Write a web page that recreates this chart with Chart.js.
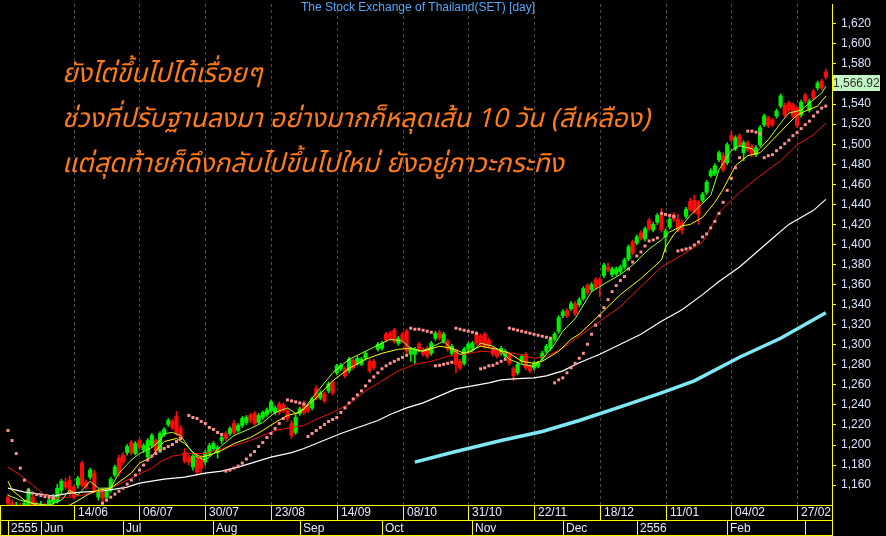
<!DOCTYPE html>
<html>
<head>
<meta charset="utf-8">
<script src="https://cdn.jsdelivr.net/npm/chart.js@4.4.0/dist/chart.umd.min.js"></script>
<style>
  html, body { margin: 0; padding: 0; background: #000; }
  #wrap { position: relative; width: 886px; height: 536px; overflow: hidden; }
  #c { background: #000; }
  .note {
    position: absolute; left: 62px; color: #ff7a18; white-space: nowrap;
    font: italic 26.5px/30px "Noto Sans Thai", "Noto Sans Thai UI", Loma, Garuda, "Tlwg Typo", Waree, sans-serif;
  }
</style>
</head>
<body>
<div id="wrap">
  <canvas id="c" width="886" height="536"></canvas>
  <div class="note" style="top:59px">ยังไต่ขึ้นไปได้เรื่อยๆ</div>
  <div class="note" style="top:104px">ช่วงที่ปรับฐานลงมา อย่างมากก็หลุดเส้น 10 วัน (สีเหลือง)</div>
  <div class="note" style="top:149px">แต่สุดท้ายก็ดึงกลับไปขึ้นไปใหม่ ยังอยู่ภาวะกระทิง</div>
</div>
<script>
// SET daily, late May 2012 .. early Mar 2013 (bar index 0..199)
const opens = [
  1148,1142,1135,1140,1134,1140,1148,1141,1136,1140,
  1137,1143,1144,1155,1163,1165,1158,1160,1182,1163,
  1168,1172,1148,1154,1148,1155,1170,1187,1190,1192.5,
  1202.5,1191.5,1204.5,1195.5,1188,1199.5,1204.5,1194.5,1210.5,1220.5,
  1223.5,1228.5,1216.5,1192.5,1188,1178,1188,1185,1183,1191.5,
  1196.5,1192.5,1204.5,1211.5,1211.5,1221.5,1214.5,1219.5,1222.5,1229.5,
  1231.5,1222.5,1227.5,1230.5,1234,1232.5,1241,1240,1234,1221.5,
  1212.5,1231.5,1241,1239,1237,1256,1247,1251,1254,1262,
  1272,1276,1276,1274,1284.5,1281.5,1280.5,1286.5,1283.5,1283.5,
  1295.5,1296.5,1310.5,1311.5,1314.5,1301.5,1310.5,1313.5,1290.5,1290.5,
  1300.5,1294.5,1296.5,1291.5,1306.5,1312.5,1303.5,1303.5,1291.5,1293.5,
  1283.5,1281.5,1295.5,1296.5,1310.5,1308.5,1310.5,1304.5,1296.5,1294.5,
  1291.5,1288.5,1290.5,1276,1272,1283.5,1290.5,1278.5,1277,1278.5,
  1286.5,1293.5,1296.5,1305.5,1313.5,1329,1334,1336,1341,1340,
  1346,1359,1355,1365,1365,1369,1377.5,1370,1371,1373,
  1377.5,1385.5,1402.5,1401.5,1411.5,1405.5,1424,1414.5,1422,1429,
  1407.5,1417.5,1430,1425,1422,1428,1443,1444,1442,1444,
  1452,1468.5,1470.5,1484.5,1488.5,1481.5,1508.5,1495.5,1508.5,1491.5,
  1501.5,1497.5,1489.5,1499.5,1519.5,1526,1524,1528,1538,1539,
  1541,1539,1536,1529,1549,1534,1553,1556,1563,1572
];
const closes = [
  1142,1135,1140,1133,1142,1155,1140,1135,1141,1136,
  1145,1149,1157,1164,1158,1152,1148,1167,1160,1158,
  1175,1155,1153,1147,1155,1166,1178,1172,1183,1198.5,
  1192.5,1201.5,1197.5,1199.5,1204.5,1209.5,1194.5,1211.5,1215.5,1224.5,
  1217.5,1211.5,1207.5,1184,1183,1189,1173,1177,1192.5,1199.5,
  1201.5,1197.5,1207.5,1206.5,1216.5,1212.5,1219.5,1226.5,1227.5,1224.5,
  1221.5,1229.5,1232.5,1235,1243,1237,1232.5,1234,1226.5,1209.5,
  1227.5,1236,1232.5,1234,1246,1247,1252,1244,1261,1252,
  1279,1279.5,1269,1285.5,1277,1286.5,1285.5,1291.5,1274,1277,
  1300.5,1301.5,1304.5,1306.5,1303.5,1306.5,1304.5,1293.5,1295.5,1295.5,
  1295.5,1290.5,1288.5,1301.5,1311.5,1306.5,1310.5,1295.5,1298.5,1280.5,
  1277,1295.5,1300.5,1301.5,1301.5,1300.5,1298.5,1298.5,1290.5,1288.5,
  1296.5,1293.5,1281.5,1269,1280.5,1288.5,1277,1274,1281.5,1281.5,
  1291.5,1298.5,1305.5,1310.5,1327,1333,1329,1341,1331,1345,
  1356,1352,1360,1357,1360,1379.5,1374.5,1375.5,1375.5,1377.5,
  1384.5,1397.5,1391.5,1407.5,1406.5,1415.5,1415.5,1420,1429,1414.5,
  1413.5,1425,1425,1414.5,1414.5,1435,1435,1433,1430,1450,
  1462,1473.5,1478.5,1491.5,1474.5,1499.5,1504.5,1506.5,1499.5,1501.5,
  1494.5,1489.5,1496.5,1516.5,1528,1518.5,1519.5,1533,1548,1529,
  1534,1528,1518.5,1542,1543,1543,1546,1561,1556,1566.92
];
const highs = [
  1151,1145,1143,1142,1145,1157,1150,1143,1144,1142,
  1148,1151,1161,1166,1167,1169,1160,1169,1184,1165,
  1177,1175,1156,1156,1157,1168,1180,1190,1192.5,1200.5,
  1204.5,1203.5,1206.5,1201.5,1206.5,1211.5,1206.5,1213.5,1217.5,1226.5,
  1225.5,1233.5,1219.5,1196.5,1190,1190.5,1190,1190,1194.5,1201.5,
  1203.5,1199.5,1209.5,1213.5,1218.5,1224.5,1221.5,1228.5,1229.5,1231.5,
  1233.5,1231.5,1234,1237,1245,1239,1243,1242,1237,1224.5,
  1230.5,1238,1244,1241,1248,1259,1254,1253,1263,1264,
  1280.5,1281.5,1278,1287.5,1286.5,1288.5,1287.5,1293.5,1285.5,1285.5,
  1302.5,1303.5,1312.5,1313.5,1316.5,1308.5,1312.5,1315.5,1297.5,1297.5,
  1302.5,1296.5,1298.5,1303.5,1313.5,1314.5,1312.5,1305.5,1300.5,1295.5,
  1285.5,1297.5,1302.5,1303.5,1312.5,1310.5,1312.5,1306.5,1298.5,1296.5,
  1298.5,1295.5,1292.5,1278,1282.5,1290.5,1292.5,1280.5,1283.5,1283.5,
  1293.5,1300.5,1307.5,1312.5,1329,1335,1336,1343,1343,1347,
  1358,1361,1362,1367,1367,1381.5,1381.5,1377.5,1377.5,1379.5,
  1386.5,1399.5,1404.5,1409.5,1413.5,1417.5,1426,1422,1431,1436,
  1415.5,1427,1432,1430,1424,1437,1446,1449,1444,1452,
  1464,1475.5,1480.5,1493.5,1491.5,1501.5,1513,1508.5,1510.5,1503.5,
  1503.5,1499.5,1498.5,1518.5,1530,1528,1526,1535,1550,1541,
  1543,1541,1538,1544,1551,1545,1555,1563,1565,1575
];
const lows = [
  1137,1133,1131,1130,1132,1138,1137,1132,1134,1133,
  1135,1140,1142,1151,1156,1149,1146,1157,1158,1156,
  1166,1153,1145,1143,1146,1153,1168,1169,1180,1190,
  1190,1190,1195.5,1192.5,1186,1197.5,1192.5,1192.5,1208.5,1218.5,
  1215.5,1209.5,1205.5,1182,1180,1175,1170,1172,1180,1189,
  1194.5,1187,1201.5,1204.5,1209.5,1210.5,1212.5,1217.5,1220.5,1222.5,
  1219.5,1220.5,1225.5,1228.5,1232.5,1230.5,1230.5,1232.5,1223.5,1206.5,
  1210.5,1229.5,1230.5,1232.5,1235,1245,1245,1242,1252,1250,
  1270,1274,1267,1272,1275,1279.5,1279,1284.5,1272,1275,
  1293.5,1294.5,1302.5,1304.5,1301.5,1299.5,1302.5,1291.5,1283.5,1281.5,
  1293.5,1288.5,1286.5,1289.5,1304.5,1304.5,1301.5,1293.5,1289.5,1272,
  1275,1279.5,1293.5,1294.5,1299.5,1298.5,1296.5,1296.5,1288.5,1286.5,
  1289.5,1286.5,1279.5,1264,1270,1281.5,1275,1272,1275,1277,
  1284.5,1291.5,1294.5,1303.5,1311.5,1327,1327,1334,1329,1338,
  1344,1350,1353,1355,1348,1367,1373,1368,1369,1371,
  1375.5,1383.5,1389.5,1399.5,1404.5,1403.5,1413.5,1412.5,1420,1412.5,
  1392.5,1415.5,1423,1412.5,1410.5,1426,1433,1431,1420,1442,
  1450,1467,1468.5,1482.5,1472.5,1479.5,1502.5,1493.5,1497.5,1483.5,
  1492.5,1487.5,1487.5,1497.5,1517.5,1516.5,1517.5,1526,1536,1527,
  1532,1526,1516.5,1527,1541,1532,1544,1554,1554,1565
];
// parabolic SAR dots (null = not visible)
const sar = [
  1214.5,1204.5,1191.5,1177,1165,1155,1152,1150.5,1149.5,1148.5,
  1148,1147,null,null,null,null,null,null,null,null,
  null,null,null,1142,1145,1148,1151,1154,1157,1161,
  1165,1170,1175,1180,1185,1189,1191.5,1194.5,1196.5,1198.5,
  1200.5,1203.5,1206.5,null,1229.5,1227.5,1226.5,1223.5,1221.5,1217.5,
  1215.5,1212.5,1210.5,1174,1175,1177,1179,1182,1186,1190,
  1193.5,1198.5,1202.5,1207.5,1211.5,1216.5,1221.5,1226.5,1245,1244,
  1243,1242,1241,1208.5,1211.5,1214.5,1217.5,1220.5,1223.5,1225.5,
  1227.5,1232.5,1237,1242,1246,1250,1254,1259,1264,1268,
  1272,1276,1279,1281.5,1283.5,1285.5,1287.5,1289.5,1316.5,1315.5,
  1315.5,1314.5,1313.5,1312.5,1279,1279.5,1280.5,1281.5,1282.5,1316.5,
  1315.5,1314.5,1313.5,1312.5,1311.5,1276,1277,1279,1279.5,1281.5,
  1283.5,1285.5,1316.5,1315.5,1314.5,1313.5,1312.5,1311.5,1310.5,1309.5,
  1308.5,1307.5,1306.5,1262,1265,1267,1272,1277,1281.5,1286.5,
  1291.5,1300.5,1310.5,1319.5,1329,1337,1345,1353,1359,1364,
  1368,1375.5,1382.5,1388.5,1392.5,1398.5,1403.5,1404.5,1406.5,1431,
  1430,1429,1428,1393.5,1394.5,1395.5,1396.5,1399.5,1402.5,1407.5,
  1410.5,1416.5,1423,1431,1442,1454,1466,1476.5,1486.5,null,
  1513,1513,1512,1510,1486.5,1488.5,1489.5,1493.5,1496.5,1500.5,
  1504,1508.5,1511.5,1515.5,1519.5,1523,1528,1532,1536,1538
];
// moving averages: [bar index, value]
const ma5 = [[0,1150],[3,1145],[6,1142],[10,1140],[13,1145],[15,1155],[17,1150],[20,1164],[22,1157],[25,1157],[27,1172],[30,1185],[32,1191.5],[35,1197.5],[37,1204.5],[38,1211.5],[40,1212.5],[42,1209.5],[44,1197.5],[46,1188],[48,1185],[50,1191.5],[52,1199.5],[55,1209.5],[59,1216.5],[62,1222.5],[65,1232.5],[68,1237],[70,1231.5],[72,1236],[75,1252],[79,1272],[83,1285.5],[87,1293.5],[91,1301.5],[93,1305.5],[96,1303.5],[98,1296.5],[100,1293.5],[102,1295.5],[105,1301.5],[106,1303.5],[108,1295.5],[110,1290.5],[113,1293.5],[115,1301.5],[118,1298.5],[120,1293.5],[122,1285.5],[125,1280.5],[128,1278.5],[130,1285.5],[133,1300.5],[135,1313.5],[138,1326],[142,1353],[146,1363],[149,1370],[152,1379.5],[156,1395.5],[159,1404.5],[161,1412.5],[164,1418.5],[166,1429],[168,1437],[171,1449],[173,1474.5],[176,1493.5],[178,1498.5],[181,1495.5],[182,1491.5],[185,1504.5],[188,1521],[190,1531],[193,1534],[195,1541],[198,1551],[199,1558]];
const ma10 = [[0,1164],[1,1155],[4,1145],[7,1140],[11,1138],[15,1140],[18,1147],[20,1152],[22,1155],[25,1157],[27,1163],[30,1172],[32,1182],[35,1188],[36,1194.5],[38,1203.5],[41,1206.5],[43,1201.5],[45,1192.5],[47,1188],[49,1190],[52,1194.5],[55,1201.5],[59,1207.5],[62,1214.5],[65,1222.5],[68,1229.5],[71,1232.5],[75,1247],[79,1264],[83,1276.5],[87,1285.5],[91,1291.5],[95,1295.5],[98,1296.5],[101,1293.5],[105,1298.5],[108,1296.5],[111,1291.5],[115,1298.5],[119,1295.5],[122,1291.5],[125,1283.5],[128,1281.5],[130,1283.5],[134,1293.5],[137,1305.5],[139,1310.5],[144,1330],[149,1350],[154,1366],[159,1384.5],[160,1397],[162,1410],[164,1418.5],[166,1420],[169,1427],[172,1442],[174,1455],[177,1478.5],[180,1488.5],[183,1491.5],[186,1504],[190,1521],[192,1529],[194,1533],[197,1538],[199,1548]];
const ma25 = [[0,1178],[3,1170],[6,1160],[9,1150],[12,1147],[15,1148],[18,1150],[22,1154],[25,1157],[28,1163],[31,1169],[35,1177],[37,1183],[40,1189],[44,1191.5],[48,1191.5],[52,1196.5],[55,1199.5],[59,1204.5],[62,1209.5],[65,1214.5],[69,1217.5],[72,1219.5],[75,1225.5],[79,1232.5],[83,1241],[87,1254],[91,1264],[95,1274],[99,1280.5],[103,1283.5],[107,1288.5],[111,1290.5],[115,1293.5],[119,1292.5],[123,1291.5],[128,1286.5],[131,1288.5],[135,1296.5],[139,1308.5],[144,1323.5],[149,1338],[154,1358],[159,1377.5],[164,1389.5],[169,1402.5],[173,1432],[178,1452],[183,1468.5],[188,1483.5],[192,1499.5],[196,1509.5],[199,1521]];
const ma75 = [[0,1157],[4,1153],[8,1151],[11,1149],[15,1152],[18,1153],[22,1154],[26,1156],[29,1158],[32,1162],[35,1164],[38,1166],[43,1168],[48,1172],[52,1174],[56,1178],[60,1183],[64,1188],[69,1192.5],[72,1196.5],[81,1211.5],[90,1224.5],[93,1230.5],[97,1237],[101,1242],[105,1249],[109,1256],[113,1259],[117,1262],[120,1265],[123,1266],[128,1267],[131,1269],[135,1274],[139,1282],[144,1290.5],[149,1300.5],[154,1310.5],[159,1323.5],[164,1335],[169,1350],[173,1363],[178,1377.5],[185,1402.5],[190,1420],[196,1434],[199,1445]];
const ma200 = [[99,1183],[108,1192.5],[120,1204.5],[130,1213.5],[139,1224.5],[149,1238],[159,1252],[167,1264],[178,1287.5],[188,1306.5],[199,1332]];

const yTicks = [1160,1180,1200,1220,1240,1260,1280,1300,1320,1340,1360,1380,1400,1420,1440,1460,1480,1500,1520,1540,1560,1580,1600,1620];
const dateTickIdx = [16,32,48,64,80,96,112,128,144,160,176,192];
const dateTickLabels = ["14/06","06/07","30/07","23/08","14/09","08/10","31/10","22/11","18/12","11/01","04/02","27/02"];
const monthIdx = [0,8,28,50,71,91,113,135,153,175,194];
const monthLabels = ["2555","Jun","Jul","Aug","Sep","Oct","Nov","Dec","2556","Feb",""];
const lastPrice = 1566.92;

const up = '#00f000', down = '#ff0a0a';
const candleColors = closes.map((c, i) => (c >= opens[i] ? up : down));
const pts = arr => arr.map(([x, y]) => ({ x, y }));
const FONT = '"Liberation Sans", Arial, sans-serif';

const frame = {
  id: 'frame',
  beforeDatasetsDraw(chart) {
    const { ctx, chartArea, scales: { x } } = chart;
    ctx.save();
    ctx.strokeStyle = '#4a4a4a';
    ctx.lineWidth = 1;
    ctx.setLineDash([3, 3]);
    dateTickIdx.forEach(i => {
      const px = Math.round(x.getPixelForValue(i)) + 0.5;
      ctx.beginPath();
      ctx.moveTo(px, chartArea.top);
      ctx.lineTo(px, chartArea.bottom);
      ctx.stroke();
    });
    ctx.restore();
  },
  afterDraw(chart) {
    const { ctx, chartArea, scales: { x, y } } = chart;
    const r = chartArea.right, b = chartArea.bottom;
    ctx.save();
    // title
    ctx.font = '12px ' + FONT;
    ctx.fillStyle = '#55a8f5';
    ctx.textAlign = 'center';
    ctx.textBaseline = 'middle';
    ctx.fillText('The Stock Exchange of Thailand(SET) [day]', (chartArea.left + r) / 2, 8);

    // date / month rows
    ctx.strokeStyle = '#ffff00';
    ctx.lineWidth = 1;
    ctx.beginPath();
    [b + 0.5, b + 15.5, b + 30.5].forEach(yy => { ctx.moveTo(0, yy); ctx.lineTo(r, yy); });
    ctx.moveTo(r + 0.5, b); ctx.lineTo(r + 0.5, 536);
    ctx.moveTo(0.5, b); ctx.lineTo(0.5, b + 31);
    dateTickIdx.forEach(i => {
      const px = Math.round(x.getPixelForValue(i)) + 0.5;
      ctx.moveTo(px, b); ctx.lineTo(px, b + 15);
    });
    monthIdx.forEach(i => {
      const px = Math.round(x.getPixelForValue(i)) + 0.5;
      ctx.moveTo(px, b + 15); ctx.lineTo(px, b + 31);
    });
    ctx.stroke();

    ctx.fillStyle = '#e6e8ff';
    ctx.textAlign = 'left';
    ctx.textBaseline = 'middle';
    dateTickIdx.forEach((i, k) => {
      ctx.fillText(dateTickLabels[k], Math.round(x.getPixelForValue(i)) + 4, b + 8);
    });
    monthIdx.forEach((i, k) => {
      ctx.fillText(monthLabels[k], Math.round(x.getPixelForValue(i)) + 3, b + 23.5);
    });

    // last price box
    const py = y.getPixelForValue(lastPrice);
    ctx.fillStyle = '#c4f6c4';
    ctx.fillRect(r + 1, Math.round(py) - 2, 47, 16);
    ctx.fillStyle = '#303030';
    ctx.fillText(lastPrice.toLocaleString('en-US', { minimumFractionDigits: 2 }), r + 1, Math.round(py) + 6.5);
    ctx.restore();
  }
};

new Chart(document.getElementById('c'), {
  type: 'bar',
  data: {
    datasets: [
      { type: 'line', label: 'SAR', data: sar.map((v, i) => (v === null ? null : { x: i, y: v })).filter(Boolean),
        showLine: false, pointStyle: 'rect', pointRadius: 2.1, pointBackgroundColor: '#ff9090', pointBorderWidth: 0, order: 0 },
      { type: 'line', label: 'MA5', data: pts(ma5), borderColor: '#9cff3a', borderWidth: 1, pointRadius: 0, order: 1 },
      { type: 'line', label: 'MA10', data: pts(ma10), borderColor: '#ffff00', borderWidth: 1, pointRadius: 0, order: 2 },
      { type: 'line', label: 'MA25', data: pts(ma25), borderColor: '#f01010', borderWidth: 1, pointRadius: 0, order: 3 },
      { type: 'line', label: 'MA75', data: pts(ma75), borderColor: '#ffffff', borderWidth: 1.2, pointRadius: 0, order: 4 },
      { type: 'line', label: 'MA200', data: pts(ma200), borderColor: '#80e8f4', borderWidth: 3.5, pointRadius: 0, order: 5 },
      { type: 'bar', label: 'body', data: opens.map((o, i) => ({ x: i, y: [o, closes[i]] })),
        backgroundColor: candleColors, barThickness: 3.5, grouped: false, order: 8 },
      { type: 'bar', label: 'wick', data: lows.map((l, i) => ({ x: i, y: [l, highs[i]] })),
        backgroundColor: candleColors, barThickness: 1, grouped: false, order: 9 }
    ]
  },
  options: {
    responsive: false,
    animation: false,
    devicePixelRatio: 1,
    layout: { padding: { left: 0, right: 0, top: 0, bottom: 31 } },
    plugins: { legend: { display: false }, tooltip: { enabled: false }, title: { display: false } },
    scales: {
      x: { type: 'linear', min: -0.97, max: 200.5, offset: false, display: false },
      y: {
        position: 'right',
        min: 1140.2,
        max: 1639.8,
        afterBuildTicks: s => { s.ticks = yTicks.map(v => ({ value: v })); },
        afterFit: s => { s.width = 54; s.paddingTop = 0; s.paddingBottom = 0; },
        grid: { drawOnChartArea: false, color: '#ffff00', tickLength: 4 },
        border: { color: '#ffff00' },
        ticks: {
          autoSkip: false,
          padding: 5,
          color: '#d8e4ff',
          font: { family: FONT, size: 12 },
          callback: v => v.toLocaleString('en-US')
        }
      }
    }
  },
  plugins: [frame]
});
</script>
</body>
</html>
